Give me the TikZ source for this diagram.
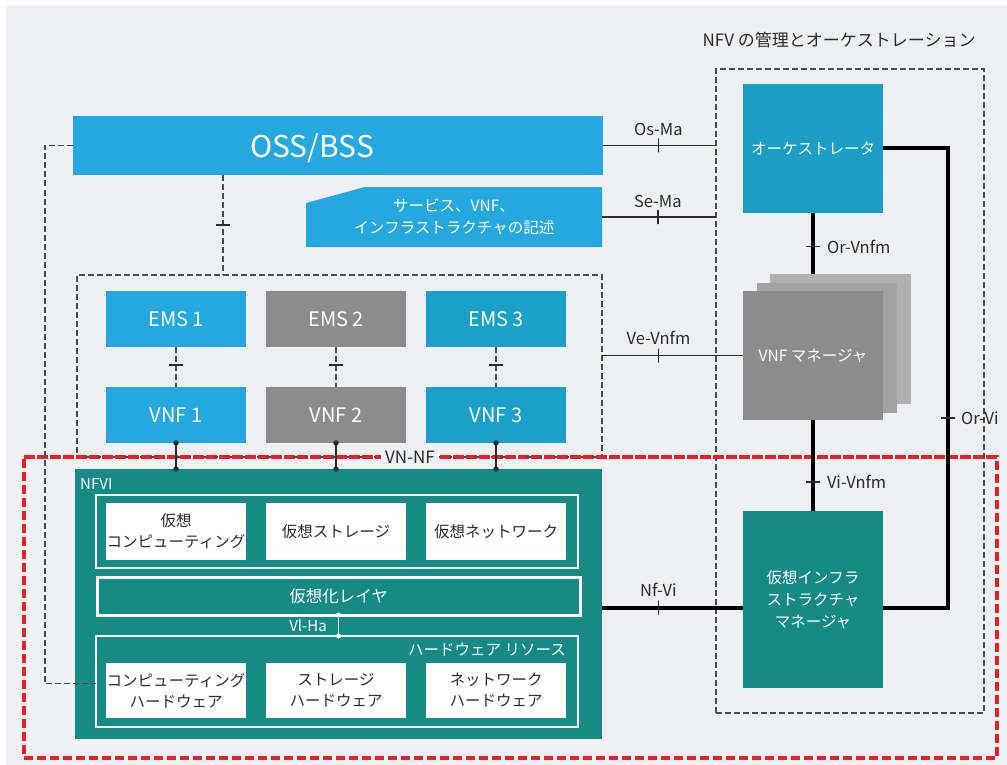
\documentclass[tikz,border=0pt]{standalone}
\usepackage{fontspec}
\setmainfont{Noto Sans CJK JP}
\usetikzlibrary{calc}
\definecolor{bgc}{HTML}{EEEFF1}
\definecolor{skyb}{HTML}{25A8E0}
\definecolor{ceru}{HTML}{1BA0C9}
\definecolor{orchb}{HTML}{1A9EC5}
\definecolor{greyb}{HTML}{8C8C8C}
\definecolor{greym}{HTML}{A2A2A2}
\definecolor{greyk}{HTML}{B0B0B0}
\definecolor{tealb}{HTML}{168A85}
\definecolor{redd}{HTML}{E8202A}
\definecolor{darkl}{HTML}{2B2B2B}
\definecolor{dashg}{HTML}{4A4A4A}
\begin{document}
\begin{tikzpicture}[x=1pt,y=-1pt,
  box/.style={anchor=north west, inner sep=0pt, outer sep=0pt, text=white, align=center},
  wbox/.style={box, fill=white, text=darkl, font=\fontsize{15.5}{21}\selectfont},
  ftxt/.style={font=\fontsize{20}{24}\selectfont},
  jtxt/.style={font=\fontsize{15.5}{22}\selectfont},
  lbl/.style={text=darkl, font=\fontsize{16.5}{18}\selectfont, inner sep=1pt},
  dashbox/.style={draw=dashg, line width=1.4pt, dash pattern=on 6pt off 3pt},
  dashline/.style={draw=dashg, line width=1.4pt, dash pattern=on 6pt off 3pt},
  thinline/.style={draw=darkl, line width=1.4pt},
  thickline/.style={draw=black, line width=4pt},
  tickv/.style={draw=darkl, line width=1.5pt, inner sep=0pt, outer sep=0pt, minimum width=0pt, minimum height=14pt},
  tickh/.style={draw=darkl, line width=1.5pt, inner sep=0pt, outer sep=0pt, minimum width=14pt, minimum height=0pt},
  dot/.style={circle, fill=darkl, inner sep=0pt, minimum size=5.5pt},
  wdot/.style={circle, fill=white, inner sep=0pt, minimum size=5pt}]
\useasboundingbox (0,0) rectangle (1007,765);
\fill[white] (0,0) rectangle (1007,765);
\fill[bgc] (6,6) rectangle (1007,765);

% title
\node[text=darkl, font=\fontsize{17}{20}\selectfont] (title) at (839,40) {NFV の管理とオーケストレーション};

% red NFVI frame
\node[box, draw=redd, line width=3.8pt, dash pattern=on 9pt off 4pt, minimum width=973pt, minimum height=301pt] (redbox) at (24,457) {};

% dashed frames
\node[box, dashbox, minimum width=268pt, minimum height=644pt] (manobox) at (716,69) {};
\node[box, dashbox, minimum width=525pt, minimum height=182pt] (vnfbox) at (77,275) {};
\draw[redd, line width=3.8pt, dash pattern=on 9pt off 4pt] (redbox.north west) -- (redbox.north east);

% OSS/BSS
\node[box, fill=skyb, minimum width=530pt, minimum height=59pt] (oss) at (73,116) {};
\node[text=white, font=\fontsize{30}{32}\selectfont] (osstxt) at (312,148) {OSS/BSS};

% description
\node[box, minimum width=296pt, minimum height=60pt, jtxt] (desc) at (306,187) {};
\fill[skyb] ([yshift=-16pt]desc.north west) -- ([xshift=59pt]desc.north west) -- (desc.north east) -- (desc.south east) -- (desc.south west) -- cycle;
\node[text=white, jtxt, align=center] (desctxt) at (454,217) {サービス、VNF、\\インフラストラクチャの記述};

% EMS / VNF
\node[box, fill=skyb, minimum width=140pt, minimum height=56pt, ftxt] (ems1) at (106,291) {EMS 1};
\node[box, fill=greyb, minimum width=140pt, minimum height=56pt, ftxt] (ems2) at (266,291) {EMS 2};
\node[box, fill=ceru, minimum width=140pt, minimum height=56pt, ftxt] (ems3) at (426,291) {EMS 3};
\node[box, fill=skyb, minimum width=140pt, minimum height=56pt, ftxt] (vnf1) at (106,387) {VNF 1};
\node[box, fill=greyb, minimum width=140pt, minimum height=56pt, ftxt] (vnf2) at (266,387) {VNF 2};
\node[box, fill=ceru, minimum width=140pt, minimum height=56pt, ftxt] (vnf3) at (426,387) {VNF 3};

% NFVI
\node[box, fill=tealb, minimum width=527pt, minimum height=270pt] (nfvi) at (75,469) {};
\node[anchor=west, text=white, font=\fontsize{15}{17}\selectfont, inner sep=0pt] (nfvilbl) at (80,484) {NFVI};
\node[box, draw=white, line width=1.5pt, minimum width=482pt, minimum height=73pt] (vrframe) at (96,495) {};
\node[wbox, minimum width=140pt, minimum height=57pt] (vc) at (106,503) {仮想\\コンピューティング};
\node[wbox, minimum width=140pt, minimum height=57pt] (vs) at (266,503) {仮想ストレージ};
\node[wbox, minimum width=140pt, minimum height=57pt] (vn) at (426,503) {仮想ネットワーク};
\node[box, draw=white, fill=tealb, line width=3pt, minimum width=483pt, minimum height=38pt, font=\fontsize{16.5}{20}\selectfont] (vlayer) at (97,577) {仮想化レイヤ};
\node[box, draw=white, line width=1.5pt, minimum width=482pt, minimum height=91pt] (hwframe) at (96,636) {};
\node[anchor=east, text=white, font=\fontsize{15.5}{18}\selectfont, inner sep=0pt] (hwlbl) at (566,650) {ハードウェア リソース};
\node[wbox, minimum width=140pt, minimum height=55pt] (hc) at (106,663) {コンピューティング\\ハードウェア};
\node[wbox, minimum width=140pt, minimum height=55pt] (hs) at (266,663) {ストレージ\\ハードウェア};
\node[wbox, minimum width=140pt, minimum height=55pt] (hn) at (426,663) {ネットワーク\\ハードウェア};

% MANO
\node[box, fill=orchb, minimum width=140pt, minimum height=129pt, jtxt] (orch) at (743,84) {オーケストレータ};
\node[box, fill=greyk, minimum width=141pt, minimum height=130pt] (vnfm3) at (770,274) {};
\node[box, fill=greym, minimum width=140pt, minimum height=130pt] (vnfm2) at (757,283) {};
\node[box, fill=greyb, minimum width=140pt, minimum height=129pt, jtxt] (vnfm) at (743,291) {VNF マネージャ};
\node[box, fill=tealb, minimum width=140pt, minimum height=177pt, jtxt] (vim) at (743,511) {仮想インフラ\\ストラクチャ\\マネージャ};

% OSS connectors
\draw[dashline] ([xshift=150pt]oss.south west) -- ([xshift=150pt]oss.south west |- vnfbox.north) node[tickh, pos=0.5]{};
\draw[dashline] (oss.west) -- ++(-28,0) |- ([yshift=7pt]hc.west -| hwframe.west);

% EMS-VNF
\foreach \i in {1,2,3}{
  \draw[dashline] (ems\i.south) -- (vnf\i.north) node[tickh, pos=0.45]{};
  \draw[draw=darkl, line width=2pt] (vnf\i.south) node[dot]{} -- (vnf\i.south |- nfvi.north) node[dot]{};
}
\node[fill=bgc, text=darkl, font=\fontsize{17}{18}\selectfont, inner xsep=4pt, inner ysep=1pt] (vnnf) at (410,457) {VN-NF};

% reference points
\draw[thinline] (oss.east) -- (oss.east -| manobox.west) node[tickv, pos=0.49]{} node[lbl, pos=0.49, above=8pt]{Os-Ma};
\draw[thinline] (desc.east) -- (desc.east -| manobox.west) node[tickv, pos=0.49]{} node[lbl, pos=0.49, above=8pt]{Se-Ma};
\draw[thinline] (vnfm.west -| vnfbox.east) -- (vnfm.west) node[tickv, pos=0.4]{} node[lbl, pos=0.4, above=9pt]{Ve-Vnfm};
\draw[thickline] (orch.south) -- (orch.south |- vnfm3.north) node[tickh, pos=0.55]{} node[lbl, pos=0.55, right=11pt]{Or-Vnfm};
\draw[thickline] (vnfm.south) -- (vim.north) node[tickh, pos=0.68]{} node[lbl, pos=0.68, right=11pt]{Vi-Vnfm};
\draw[thickline] ([yshift=-8pt]vim.west -| nfvi.east) -- ([yshift=-8pt]vim.west) node[tickv, pos=0.4]{} node[lbl, pos=0.4, above=8pt]{Nf-Vi};
\draw[thickline] (orch.east) -- ++(65,0) coordinate (orvi1) -- ([yshift=-8pt]vim.east -| orvi1) node[tickh, pos=0.587]{} node[lbl, pos=0.587, right=10pt]{Or-Vi} -- ([yshift=-8pt]vim.east);

% Vl-Ha
\draw[draw=white, line width=1.5pt] (vlayer.south) node[wdot]{} -- (vlayer.south |- hwframe.north) node[wdot]{};
\node[text=white, font=\fontsize{15}{17}\selectfont, inner sep=0pt] (vlha) at (308,626) {Vl-Ha};
\end{tikzpicture}
\end{document}
